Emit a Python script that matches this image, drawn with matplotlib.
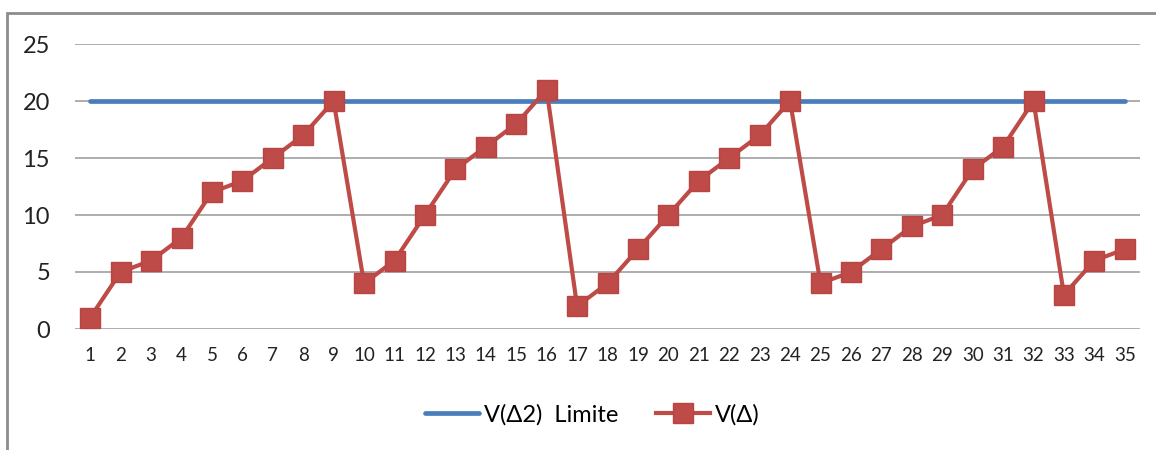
import matplotlib.pyplot as plt
from matplotlib.patches import Rectangle

# Valores por paso
steps = list(range(1, 36))
v_delta = [1, 5, 6, 8, 12, 13, 15, 17, 20, 4, 6, 10, 14, 16, 18, 21, 2, 4, 7, 10,
           13, 15, 17, 20, 4, 5, 7, 9, 10, 14, 16, 20, 3, 6, 7]
limite = [20] * len(steps)

plt.rcParams['font.family'] = ['Lato', 'DejaVu Sans']

fig = plt.figure(figsize=(11.56, 4.5), dpi=100)
ax = fig.add_axes([75 / 1156, 1 - 329 / 450, (1140 - 75) / 1156, (329 - 44) / 450])

# Marco del gráfico (recortado a la derecha y abajo)
fig.patches.append(Rectangle((7 / 1156, -0.2), 1.2, 1 - 13 / 450 + 0.2,
                             transform=fig.transFigure, fill=False,
                             edgecolor='#8c8c8c', linewidth=2))

ax.plot(steps, limite, color='#4a7ebb', linewidth=3.4, solid_capstyle='round',
        label='V(Δ2)  Limite', zorder=3)
ax.plot(steps, v_delta, color='#be4b48', linewidth=3, marker='s', markersize=15,
        markeredgecolor='#b84542', label='V(Δ)', zorder=4)

ax.set_xlim(0.5, 35.5)
ax.set_ylim(0, 25)
ax.set_yticks(range(0, 26, 5))
ax.set_xticks(steps)
ax.grid(axis='y', color='#a0a0a0', linewidth=1.2)
ax.set_axisbelow(True)
for s in ax.spines.values():
    s.set_visible(False)
ax.tick_params(axis='y', length=0, labelsize=17, pad=18, colors='#222222')
ax.tick_params(axis='x', length=0, labelsize=13.5, pad=13, colors='#222222')

fig.legend(loc='center', bbox_to_anchor=(592 / 1156, 1 - 415 / 450), ncol=2,
           frameon=False, fontsize=17, handlelength=2.3, handletextpad=0.2,
           columnspacing=1.6)

fig.savefig('out.png', dpi=100)
